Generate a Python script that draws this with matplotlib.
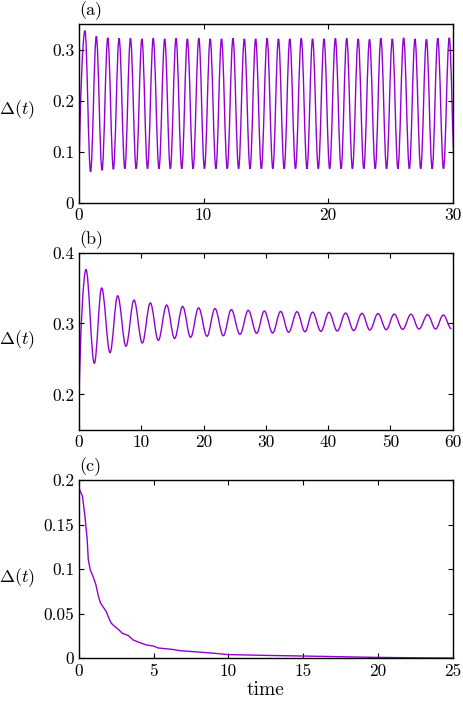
"""
plot.py
=======
Three stacked panels of the order parameter Delta(t) against time.
"""

import matplotlib
matplotlib.use("Agg")
import matplotlib.pyplot as plt
from matplotlib.path import Path
from matplotlib.patches import PathPatch
from matplotlib.ticker import FuncFormatter

# ---------------------------------------------------------------------------
# Data (extrema of the oscillations, decay samples)
# ---------------------------------------------------------------------------

# panel (a): persistent oscillation
a_start = (0.0, 0.048)
a_peak_t = [0.48, 1.39, 2.31, 3.22, 4.13, 5.05, 5.96, 6.88, 7.79, 8.70, 9.62,
            10.53, 11.44, 12.36, 13.27, 14.18, 15.10, 16.01, 16.92, 17.84,
            18.75, 19.67, 20.58, 21.49, 22.41, 23.32, 24.23, 25.15, 26.06,
            26.97, 27.89, 28.80, 29.72]
a_peak_v = [0.337, 0.326, 0.323, 0.322, 0.322, 0.321, 0.322, 0.321, 0.322,
            0.321, 0.322, 0.321, 0.321, 0.322, 0.321, 0.321, 0.322, 0.321,
            0.321, 0.322, 0.321, 0.321, 0.322, 0.322, 0.321, 0.320, 0.322,
            0.321, 0.323, 0.321, 0.320, 0.322, 0.323]
a_trough_t = [0.93, 1.85, 2.76, 3.68, 4.59, 5.50, 6.42, 7.33, 8.25, 9.16,
              10.07, 10.99, 11.90, 12.81, 13.73, 14.64, 15.56, 16.47, 17.38,
              18.30, 19.21, 20.12, 21.04, 21.95, 22.86, 23.78, 24.69, 25.60,
              26.52, 27.43, 28.35, 29.26, 30.17]
a_trough_v = [0.061, 0.064, 0.066, 0.067, 0.067, 0.067, 0.067, 0.067, 0.067,
              0.067, 0.067, 0.067, 0.067, 0.067, 0.067, 0.067, 0.067, 0.067,
              0.067, 0.067, 0.067, 0.067, 0.067, 0.067, 0.067, 0.067, 0.067,
              0.067, 0.067, 0.067, 0.067, 0.067, 0.067]

# panel (b): damped oscillation
b_start = (0.0, 0.188)
b_peak_t = [1.12, 3.64, 6.21, 8.83, 11.45, 14.07, 16.64, 19.20, 21.83, 24.45,
            27.18, 29.75, 32.37, 35.00, 37.50, 40.13, 42.80, 45.43, 48.00,
            50.60, 53.30, 55.97, 58.48]
b_peak_v = [0.376, 0.350, 0.339, 0.333, 0.329, 0.326, 0.324, 0.322, 0.321,
            0.3195, 0.3185, 0.3175, 0.317, 0.3166, 0.316, 0.3157, 0.3147,
            0.3143, 0.314, 0.3133, 0.313, 0.3124, 0.3119]
b_trough_t = [2.46, 4.98, 7.54, 10.16, 12.73, 15.35, 17.92, 20.55, 23.17,
              25.84, 28.52, 31.09, 33.66, 36.28, 38.84, 41.46, 44.10, 46.70,
              49.33, 51.96, 54.57, 57.25, 59.80]
b_trough_v = [0.244, 0.259, 0.268, 0.2725, 0.2763, 0.279, 0.2805, 0.282,
              0.2828, 0.2847, 0.2862, 0.2866, 0.2876, 0.2884, 0.289, 0.2894,
              0.29, 0.2908, 0.2913, 0.2918, 0.2922, 0.2922, 0.2925]

# panel (c): decay
c_t = [0.0, 0.04, 0.23, 0.40, 0.55, 0.62, 0.75, 0.98, 1.13, 1.30, 1.44, 1.67,
       1.82, 2.00, 2.16, 2.40, 2.67, 2.90, 3.30, 3.62, 4.07, 4.50, 4.96, 5.30,
       6.20, 6.76, 7.98, 9.09, 9.98, 12.5, 14.96, 17.5, 19.8, 22.5, 25.0]
c_v = [0.190, 0.189, 0.182, 0.159, 0.133, 0.111, 0.0994, 0.090, 0.0825,
       0.0694, 0.062, 0.0563, 0.0525, 0.045, 0.0394, 0.0356, 0.0319, 0.0281,
       0.0255, 0.0206, 0.0176, 0.015, 0.0139, 0.0116, 0.0101, 0.0086, 0.0071,
       0.0056, 0.0042, 0.0033, 0.0026, 0.0018, 0.0011, 0.0006, 0.0003]

# ---------------------------------------------------------------------------
# Style
# ---------------------------------------------------------------------------

LINE_COLOR = "#9400d3"

plt.rcParams.update({
    "font.family": "serif",
    "font.serif": ["cmr10", "DejaVu Serif"],
    "mathtext.fontset": "cm",
    "axes.formatter.use_mathtext": True,
    "axes.linewidth": 1.0,
    "xtick.direction": "in",
    "ytick.direction": "in",
    "xtick.top": True,
    "ytick.right": True,
    "xtick.major.size": 3.5,
    "ytick.major.size": 3.5,
    "xtick.labelsize": 12.5,
    "ytick.labelsize": 12.5,
})


def extrema_path(start, peak_t, peak_v, trough_t, trough_v):
    """Smooth path through the extrema (horizontal tangent at each one)."""
    pts = [start]
    for pt, pv, tt, tv in zip(peak_t, peak_v, trough_t, trough_v):
        pts.append((pt, pv))
        pts.append((tt, tv))
    verts = [pts[0]]
    codes = [Path.MOVETO]
    for i in range(1, len(pts)):
        (t0, y0), (t1, y1) = pts[i - 1], pts[i]
        d = t1 - t0
        if i == 1:
            c1 = (t0 + 0.15 * d, y0 + 0.5 * (y1 - y0))
        else:
            c1 = (t0 + 0.364 * d, y0)
        c2 = (t1 - 0.364 * d, y1)
        verts += [c1, c2, (t1, y1)]
        codes += [Path.CURVE4] * 3
    return Path(verts, codes)


def style_axes(ax, letter, ylabel_y):
    ax.yaxis.set_major_formatter(FuncFormatter(lambda v, _: f"{v:g}"))
    ax.xaxis.set_major_formatter(FuncFormatter(lambda v, _: f"{v:g}"))
    ax.set_ylabel(r"$\Delta(t)$", fontsize=13, rotation=0,
                  ha="center", va="center")
    ax.yaxis.set_label_coords(-0.165, ylabel_y)
    ax.text(0.0, 1.02, letter, transform=ax.transAxes, fontsize=13,
            ha="left", va="bottom")


fig = plt.figure(figsize=(4.63, 7.02), dpi=100)
left, width = 0.1706, 0.8072

# (a)
ax1 = fig.add_axes([left, 0.7108, width, 0.2550])
ax1.add_patch(PathPatch(extrema_path(a_start, a_peak_t, a_peak_v,
                                     a_trough_t, a_trough_v),
                        facecolor="none", edgecolor=LINE_COLOR, lw=1.0))
ax1.set_xlim(0, 30)
ax1.set_ylim(0, 0.35)
ax1.set_xticks([0, 10, 20, 30])
ax1.set_yticks([0, 0.1, 0.2, 0.3])
style_axes(ax1, "(a)", 0.52)

# (b)
ax2 = fig.add_axes([left, 0.3875, width, 0.2528])
ax2.add_patch(PathPatch(extrema_path(b_start, b_peak_t, b_peak_v,
                                     b_trough_t, b_trough_v),
                        facecolor="none", edgecolor=LINE_COLOR, lw=1.0))
ax2.set_xlim(0, 60)
ax2.set_ylim(0.15, 0.4)
ax2.set_xticks(range(0, 61, 10))
ax2.set_yticks([0.2, 0.3, 0.4])
style_axes(ax2, "(b)", 0.507)

# (c)
ax3 = fig.add_axes([left, 0.0622, width, 0.2540])
ax3.plot(c_t, c_v, color=LINE_COLOR, lw=1.0)
ax3.set_xlim(0, 25)
ax3.set_ylim(0, 0.2)
ax3.set_xticks(range(0, 26, 5))
ax3.set_yticks([0, 0.05, 0.1, 0.15, 0.2])
ax3.set_xlabel("time", fontsize=14, labelpad=2)
style_axes(ax3, "(c)", 0.45)

fig.savefig("out.png", dpi=100)
